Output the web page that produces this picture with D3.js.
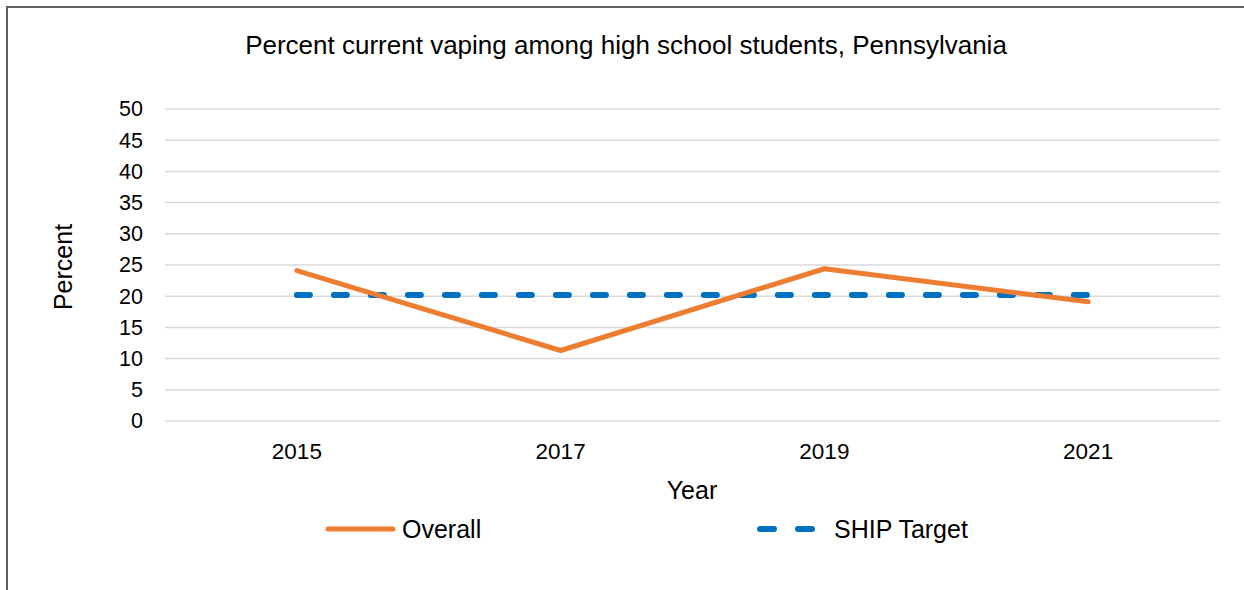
<!DOCTYPE html>
<html><head><meta charset="utf-8">
<script src="https://cdn.jsdelivr.net/npm/d3@7"></script>
<style>body{margin:0;background:#fff}svg{display:block;font-family:"Liberation Sans",Arial,sans-serif}</style>
</head><body>
<svg id="c" width="1244" height="590"></svg>
<script>
const years = ["2015","2017","2019","2021"];
const overall = [24.1, 11.3, 24.4, 19.1];
const shipTarget = [20.2, 20.2, 20.2, 20.2];
const yTicks = [0,5,10,15,20,25,30,35,40,45,50];
const title = "Percent current vaping among high school students, Pennsylvania";

const svg = d3.select("#c");
const m = {left:165, right:1220, top:109, bottom:421};
const x = d3.scaleBand().domain(years).range([m.left, m.right]);
const y = d3.scaleLinear().domain([0,50]).range([m.bottom, m.top]);

// frame
svg.append("path").attr("d","M7,590 V7 H1244").attr("fill","none").attr("stroke","#5f5f5f").attr("stroke-width",2);

// gridlines
svg.append("g").selectAll("line").data(yTicks).join("line")
  .attr("x1",m.left).attr("x2",m.right)
  .attr("y1",d=>y(d)).attr("y2",d=>y(d))
  .attr("stroke","#d9d9d9").attr("stroke-width",1.5);

// y axis labels
const ya = svg.append("g").attr("transform",`translate(${m.left},0)`)
  .call(d3.axisLeft(y).tickValues(yTicks).tickSize(0).tickPadding(22));
ya.select(".domain").remove();
ya.selectAll("text").attr("font-size",21.5).attr("fill","#000").attr("font-family","Liberation Sans, Arial, sans-serif");

// x axis labels
const xa = svg.append("g").attr("transform",`translate(0,${m.bottom})`)
  .call(d3.axisBottom(x).tickSize(0).tickPadding(22));
xa.select(".domain").remove();
xa.selectAll("text").attr("font-size",22.5).attr("fill","#000").attr("font-family","Liberation Sans, Arial, sans-serif");

// title & axis titles
svg.append("text").attr("x",626).attr("y",54).attr("text-anchor","middle").attr("font-size",26).text(title);
svg.append("text").attr("transform","translate(72,267) rotate(-90)").attr("text-anchor","middle").attr("font-size",25).text("Percent");
svg.append("text").attr("x",692).attr("y",499).attr("text-anchor","middle").attr("font-size",25).text("Year");

const line = d3.line().x((d,i)=>x(years[i])+x.bandwidth()/2).y(d=>y(d));

svg.append("path").datum(shipTarget).attr("d",line).attr("fill","none")
  .attr("stroke","#0070c0").attr("stroke-width",6).attr("stroke-linecap","round")
  .attr("stroke-dasharray","13,24");
svg.append("path").datum(overall).attr("d",line).attr("fill","none")
  .attr("stroke","#ed7d31").attr("stroke-width",5).attr("stroke-linecap","round").attr("stroke-linejoin","round");

// legend
const lg = svg.append("g");
lg.append("line").attr("x1",328).attr("x2",393).attr("y1",529).attr("y2",529)
  .attr("stroke","#ed7d31").attr("stroke-width",5).attr("stroke-linecap","round");
lg.append("text").attr("x",402).attr("y",538).attr("font-size",25).text("Overall");
lg.append("line").attr("x1",760).attr("x2",815).attr("y1",529).attr("y2",529)
  .attr("stroke","#0070c0").attr("stroke-width",6).attr("stroke-linecap","round").attr("stroke-dasharray","14,24");
lg.append("text").attr("x",834).attr("y",538).attr("font-size",25).text("SHIP Target");
</script>
</body></html>
